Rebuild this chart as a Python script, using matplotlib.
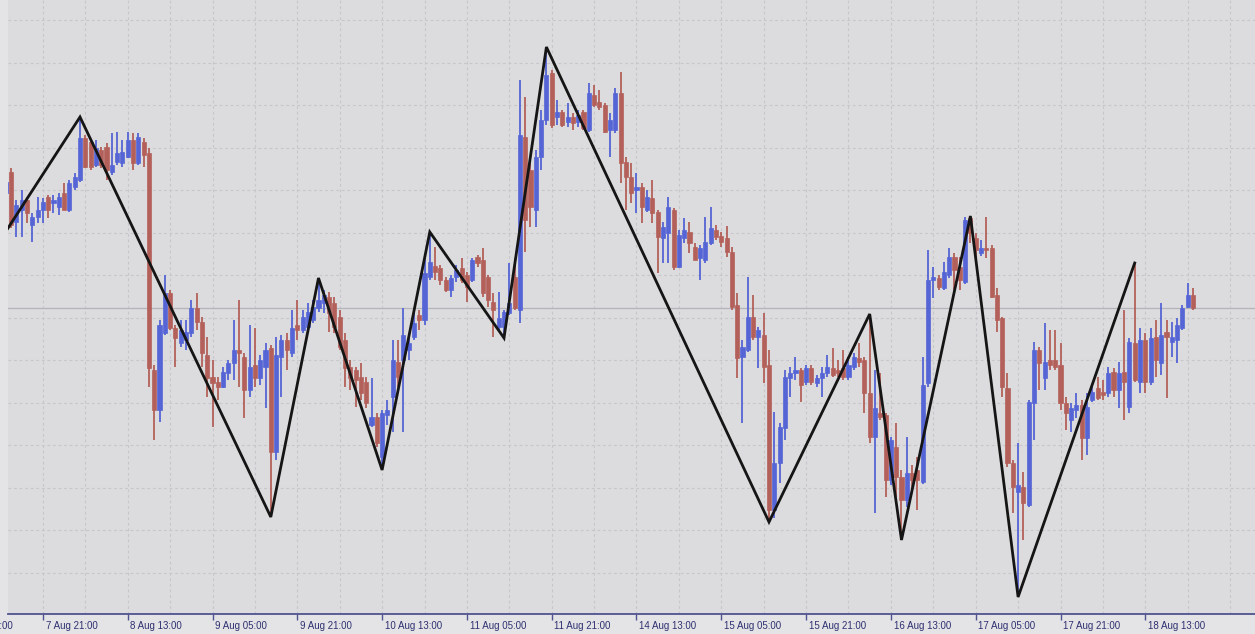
import numpy as np
import matplotlib
matplotlib.use("Agg")
import matplotlib.pyplot as plt
import matplotlib.transforms as mtransforms

# ---------------- data (hourly candles, price in chart points) ----------------
open_ = [447, 468, 418, 430, 440, 415, 423, 430, 443, 437,
         433, 447, 430, 453, 460, 502, 498, 475, 490, 493,
         468, 478, 477, 483, 500, 477, 498, 487, 270, 230,
         307, 347, 312, 297, 300, 307, 332, 318, 285, 263,
         258, 253, 267, 277, 290, 283, 250, 275, 262, 273,
         292, 188, 283, 300, 287, 315, 310, 313, 320, 332,
         337, 343, 337, 323, 300, 273, 270, 263, 258, 215,
         223, 183, 225, 243, 278, 280, 290, 303, 325, 320,
         363, 374, 372, 360, 350, 363, 372, 365, 360, 383,
         380, 363, 338, 313, 313, 327, 363, 330, 503, 470,
         430, 483, 520, 567, 523, 528, 518, 523, 518, 528,
         510, 545, 538, 535, 510, 510, 547, 478, 463, 450,
         453, 430, 442, 428, 402, 407, 430, 373, 402, 408,
         393, 382, 380, 397, 410, 404, 402, 388, 335, 283,
         290, 323, 303, 305, 275, 130, 177, 212, 262, 267,
         270, 258, 272, 257, 262, 267, 272, 270, 272, 263,
         273, 282, 280, 247, 203, 227, 225, 160, 193, 163,
         140, 167, 170, 158, 257, 360, 362, 352, 365, 383,
         373, 358, 422, 402, 387, 392, 392, 345, 322, 252,
         177, 148, 153, 135, 237, 290, 262, 280, 280, 275,
         237, 220, 230, 235, 202, 240, 252, 248, 247, 268,
         250, 268, 233, 297, 258, 300, 258, 303, 277, 308,
         298, 300, 312, 333, 345]

high = [464, 472, 440, 450, 443, 427, 443, 442, 445, 445,
        447, 457, 460, 467, 523, 505, 500, 500, 493, 497,
        507, 508, 500, 508, 507, 507, 502, 492, 275, 320,
        365, 350, 315, 320, 320, 340, 347, 323, 303, 280,
        263, 273, 280, 320, 340, 287, 315, 312, 285, 297,
        295, 303, 305, 307, 330, 340, 330, 337, 340, 362,
        350, 348, 343, 330, 307, 280, 273, 277, 263, 262,
        227, 230, 240, 300, 300, 332, 307, 327, 330, 383,
        408, 393, 375, 363, 365, 375, 382, 368, 382, 385,
        392, 365, 347, 348, 330, 377, 382, 560, 543, 483,
        490, 530, 593, 570, 540, 530, 537, 527, 530, 530,
        557, 555, 550, 537, 527, 552, 568, 483, 477, 467,
        457, 450, 460, 430, 418, 443, 432, 410, 422, 418,
        397, 395, 423, 433, 415, 408, 414, 393, 347, 300,
        363, 345, 313, 327, 290, 228, 217, 270, 273, 283,
        272, 275, 275, 265, 273, 285, 292, 280, 290, 283,
        287, 297, 283, 326, 270, 267, 227, 203, 217, 170,
        203, 175, 183, 283, 390, 373, 365, 378, 392, 387,
        383, 423, 424, 407, 400, 423, 395, 352, 323, 267,
        180, 197, 168, 240, 298, 293, 317, 310, 310, 297,
        243, 237, 247, 240, 247, 253, 263, 260, 273, 272,
        278, 330, 302, 377, 312, 307, 312, 320, 337, 320,
        318, 322, 335, 357, 352]

low = [444, 412, 403, 403, 417, 398, 417, 417, 422, 427,
       425, 430, 428, 450, 458, 472, 470, 473, 472, 460,
       465, 475, 473, 482, 470, 475, 473, 253, 200, 218,
       305, 310, 273, 293, 290, 303, 310, 273, 243, 213,
       240, 252, 260, 260, 253, 222, 243, 253, 255, 232,
       123, 180, 243, 270, 283, 300, 307, 312, 317, 328,
       327, 308, 307, 290, 253, 250, 233, 240, 232, 213,
       193, 170, 215, 208, 253, 208, 280, 300, 310, 315,
       360, 360, 355, 348, 343, 358, 357, 338, 358, 373,
       343, 333, 303, 310, 302, 325, 330, 317, 388, 413,
       413, 470, 515, 512, 515, 513, 513, 510, 513, 510,
       508, 533, 530, 507, 483, 507, 457, 430, 437, 427,
       417, 428, 417, 367, 377, 377, 370, 372, 397, 387,
       380, 360, 377, 395, 400, 393, 383, 330, 262, 217,
       288, 300, 272, 257, 118, 122, 157, 200, 243, 260,
       238, 255, 255, 253, 243, 263, 263, 263, 260, 260,
       270, 273, 227, 197, 127, 220, 143, 155, 143, 100,
       133, 150, 130, 156, 253, 342, 350, 350, 362, 350,
       350, 356, 397, 382, 384, 382, 342, 308, 243, 173,
       127, 43, 100, 133, 200, 250, 250, 270, 270, 230,
       210, 208, 222, 180, 185, 238, 240, 240, 243, 243,
       232, 220, 227, 258, 247, 247, 255, 263, 265, 242,
       283, 277, 310, 332, 330]

close = [458, 415, 435, 440, 427, 423, 430, 438, 430, 440,
         443, 430, 457, 463, 502, 473, 473, 492, 475, 470,
         475, 487, 488, 500, 477, 503, 485, 272, 230, 315,
         347, 312, 302, 310, 308, 332, 318, 287, 262, 257,
         253, 268, 277, 290, 287, 250, 273, 262, 280, 290,
         188, 285, 300, 290, 312, 310, 323, 328, 333, 340,
         345, 327, 313, 293, 272, 262, 260, 247, 237, 223,
         197, 227, 230, 280, 263, 305, 297, 317, 320, 367,
         378, 368, 360, 350, 362, 370, 360, 353, 380, 377,
         347, 340, 330, 322, 328, 337, 332, 505, 420, 433,
         483, 520, 565, 515, 528, 515, 523, 517, 525, 512,
         547, 535, 533, 508, 520, 547, 477, 463, 447, 453,
         433, 443, 427, 403, 413, 433, 373, 405, 410, 397,
         380, 392, 398, 412, 403, 398, 388, 333, 282, 293,
         323, 303, 310, 273, 130, 177, 213, 263, 267, 270,
         255, 272, 258, 262, 267, 273, 265, 267, 263, 275,
         283, 278, 247, 203, 232, 223, 160, 200, 163, 140,
         167, 160, 160, 255, 360, 363, 353, 368, 383, 370,
         360, 420, 407, 390, 392, 390, 343, 320, 253, 177,
         153, 155, 137, 238, 290, 277, 278, 275, 273, 237,
         227, 232, 235, 202, 233, 248, 242, 245, 267, 250,
         267, 258, 298, 260, 300, 258, 302, 280, 305, 303,
         303, 315, 332, 345, 332]

# ZigZag pivots: bar index and price
zz_bar = [-3, 14, 50, 59, 71, 80, 94, 102, 144, 163, 169, 182, 191, 213]
zz_price = [384, 523, 123, 362, 170, 408, 302, 593, 118, 326, 100, 424, 43, 377]

# time-axis labels (every 16 bars, first one partly off-screen)
label_bars = [-9, 7, 23, 39, 55, 71, 87, 103, 119, 135, 151, 167, 183, 199, 215]
label_text = ["7 Aug 05:00", "7 Aug 21:00", "8 Aug 13:00", "9 Aug 05:00",
              "9 Aug 21:00", "10 Aug 13:00", "11 Aug 05:00", "11 Aug 21:00",
              "14 Aug 13:00", "15 Aug 05:00", "15 Aug 21:00", "16 Aug 13:00",
              "17 Aug 05:00", "17 Aug 21:00", "18 Aug 13:00"]

# ---------------- styling ----------------
BG = "#dcdcde"
BULL = "#5565d6"
BEAR = "#b4605a"
AXIS = "#4f5390"
TXT = "#2e3070"

o = np.array(open_, float)
h = np.array(high, float)
l = np.array(low, float)
c = np.array(close, float)
x = np.arange(len(o))
bull = c >= o
colors = np.where(bull, BULL, BEAR)

fig = plt.figure(figsize=(12.55, 6.34), dpi=100, facecolor="#e4e4e6")
ax = fig.add_axes([8 / 1255, 20 / 634, 1247 / 1255, 614 / 634])
ax.set_facecolor(BG)

step = 5.3
x0px = 5.8
ax.set_xlim((8 - x0px) / step, (1255 - x0px) / step)
ax.set_ylim(26, 640)

# grid
for gy in np.arange(620, 40, -42.5):
    ax.axhline(gy, color="#c6c6cb", lw=0.8, ls=(0, (2.5, 2.5)), zorder=0)
for gx in range(7, 240, 8):
    ax.axvline(gx, color="#c6c6cb", lw=0.8, ls=(0, (2.5, 2.5)), zorder=0)

# current price line
ax.axhline(c[-1], color="#b4b4ba", lw=0.9, zorder=0.5)

# candles
ax.vlines(x, l, h, colors=colors, lw=1.3, zorder=2)
body_lo = np.minimum(o, c)
body_h = np.maximum(np.abs(c - o), 1.5)
ax.bar(x, body_h, bottom=body_lo, width=0.78, color=colors,
       edgecolor=colors, linewidth=0.5, zorder=3)

# zigzag
ax.plot(zz_bar, zz_price, color="#151515", lw=2.0, zorder=4,
        solid_joinstyle="miter")

# axes decoration
for s in ["top", "left", "right"]:
    ax.spines[s].set_visible(False)
ax.spines["bottom"].set_color(AXIS)
ax.spines["bottom"].set_linewidth(1.3)
ax.set_yticks([])
ax.set_xticks([b for b in label_bars if b >= 0])
ax.tick_params(axis="x", direction="out", length=4, width=1.0, color=AXIS,
               labelbottom=False)

trans = mtransforms.blended_transform_factory(ax.transData, ax.transAxes)
for b, t in zip(label_bars, label_text):
    ax.text(b + 0.5, -0.0195, t, transform=trans, ha="left", va="center",
            fontsize=7, color=TXT, family=["Liberation Sans", "DejaVu Sans"],
            clip_on=False)

fig.savefig("out.png", dpi=100, facecolor=fig.get_facecolor())
